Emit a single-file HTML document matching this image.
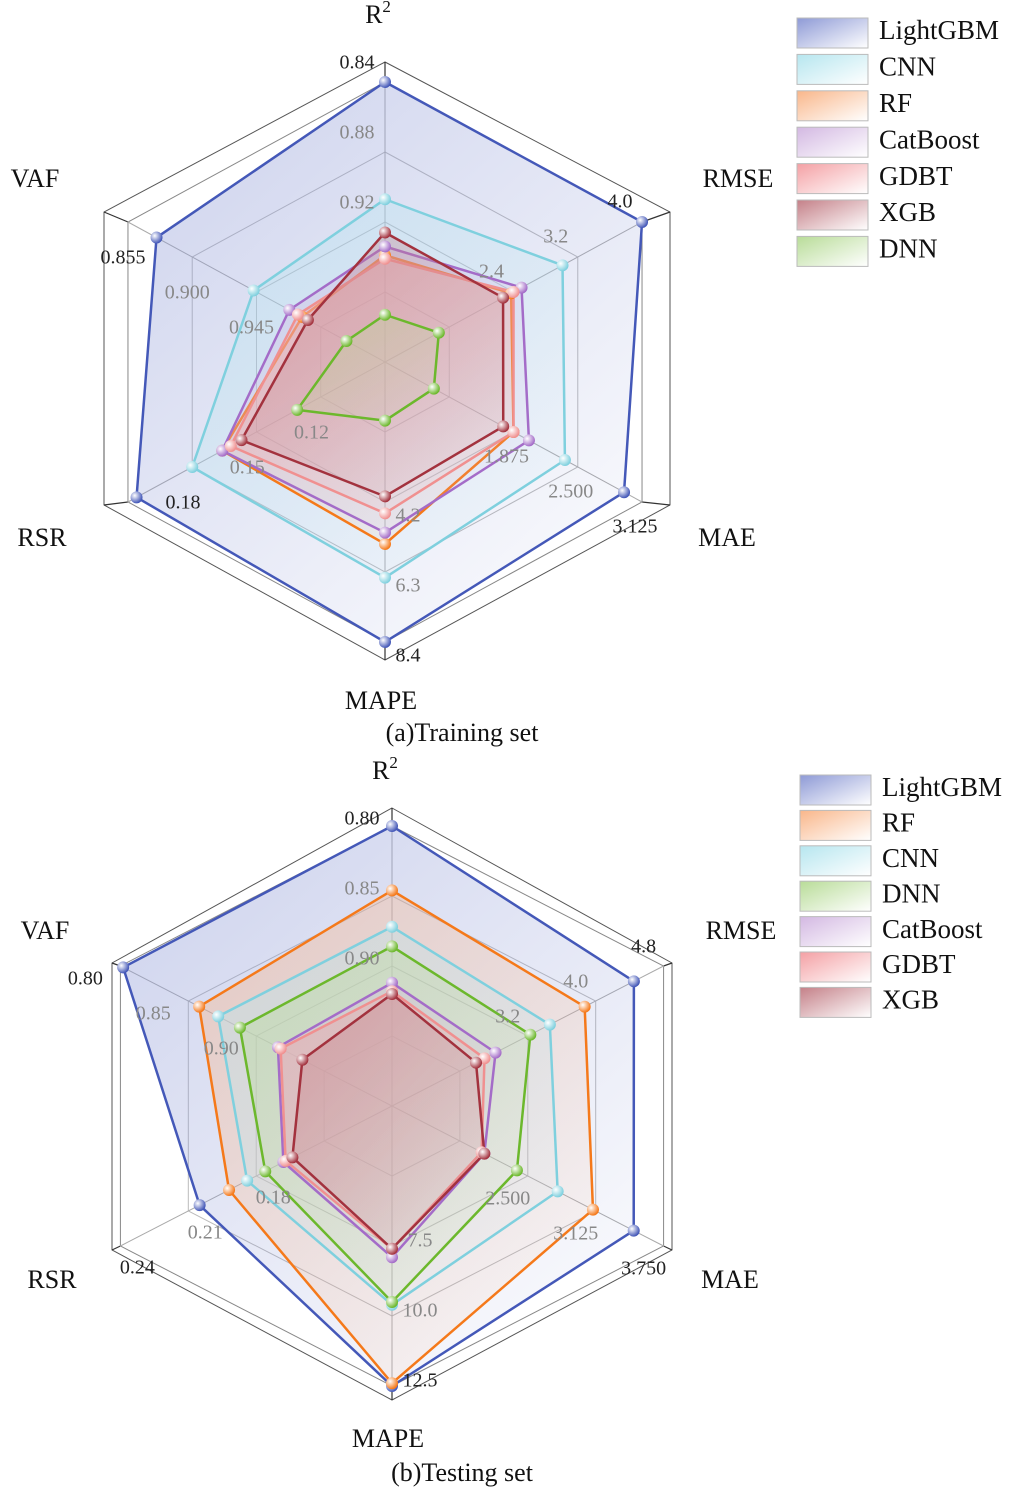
<!DOCTYPE html>
<html><head><meta charset="utf-8"><style>
body{margin:0;background:#fff;}
svg{display:block;font-family:"Liberation Serif",serif;}
</style></head><body>
<svg id="s" width="1025" height="1492" viewBox="0 0 1025 1492"></svg>
<script>
const axesNames=["R2","RMSE","MAE","MAPE","RSR","VAF"];
// chart a: axis center values and outer values
const aCenter=[1.00,0.8,0.625,0,0.06,1.035];
const aOuter=[0.84,4.0,3.125,8.4,0.18,0.855];
const aModels=["LightGBM","CNN","RF","CatBoost","GDBT","XGB","DNN"];
const aLightGBM=[0.840,4.00,2.95,8.40,0.176,0.875];
const aCNN=[0.907,3.01,2.375,6.47,0.150,0.943];
const aRF=[0.939,2.37,1.875,5.46,0.136,0.977];
const aCatBoost=[0.934,2.50,2.025,5.12,0.136,0.968];
const aGDBT=[0.941,2.40,1.875,4.54,0.132,0.974];
const aXGB=[0.926,2.27,1.775,4.03,0.127,0.981];
const aDNN=[0.973,1.47,1.10,1.76,0.101,1.008];
const aTicks=[["0.84","0.88","0.92","0.96"],["4.0","3.2","2.4","1.6"],["3.125","2.500","1.875","1.250"],["8.4","6.3","4.2","2.1"],["0.18","0.15","0.12","0.09"],["0.855","0.900","0.945","0.990"]];
// chart b
const bCenter=[1.00,1.6,1.25,2.5,0.12,1.00];
const bOuter=[0.80,4.8,3.75,12.5,0.24,0.80];
const bModels=["LightGBM","RF","CNN","DNN","CatBoost","GDBT","XGB"];
const bLightGBM=[0.800,4.45,3.475,12.5,0.205,0.802];
const bRF=[0.846,3.87,3.10,12.4,0.192,0.858];
const bCNN=[0.872,3.46,2.775,9.6,0.184,0.872];
const bDNN=[0.886,3.23,2.40,9.5,0.176,0.888];
const bCatBoost=[0.912,2.82,2.10,7.9,0.168,0.916];
const bGDBT=[0.918,2.69,2.075,7.6,0.167,0.918];
const bXGB=[0.920,2.59,2.10,7.6,0.164,0.934];
const bTicks=[["0.80","0.85","0.90","0.95"],["4.8","4.0","3.2","2.4"],["3.750","3.125","2.500","1.875"],["12.5","10.0","7.5","5.0"],["0.24","0.21","0.18","0.15"],["0.80","0.85","0.90","0.95"]];

const colors={LightGBM:"#4458b8",CNN:"#7fd0de",RF:"#f5791a",CatBoost:"#a46cc8",GDBT:"#f09090",XGB:"#a3323e",DNN:"#6cb82c"};
const fills={LightGBM:"#8e9ad6",CNN:"#b6e6ef",RF:"#f9b68a",CatBoost:"#d3b8e2",GDBT:"#f4a0a4",XGB:"#c48088",DNN:"#b8dc98"};
const NS="http://www.w3.org/2000/svg";
const svg=document.getElementById('s');
function mk(tag,attrs,parent){const e=document.createElementNS(NS,tag);for(const k in attrs)e.setAttribute(k,attrs[k]);(parent||svg).appendChild(e);return e;}
const defs=mk('defs',{});
Object.keys(colors).forEach(m=>{
  const g=mk('radialGradient',{id:'ball-'+m,cx:'35%',cy:'35%',r:'65%'},defs);
  mk('stop',{offset:'0','stop-color':'#fff'},g);mk('stop',{offset:'1','stop-color':colors[m]},g);
  const l=mk('linearGradient',{id:'leg-'+m,x1:'0',y1:'0',x2:'1',y2:'1'},defs);
  mk('stop',{offset:'0','stop-color':fills[m]},l);mk('stop',{offset:'1','stop-color':'#fff'},l);
  const f=mk('linearGradient',{id:'fill-'+m,x1:'0',y1:'0',x2:'0.8',y2:'1'},defs);
  mk('stop',{offset:'0','stop-color':fills[m],'stop-opacity':'0.45'},f);mk('stop',{offset:'1','stop-color':fills[m],'stop-opacity':'0.05'},f);
});
const ang=[0,60,120,180,240,300].map(d=>d*Math.PI/180);
function radar(cfg){
  const {cx,cy,R,sx,center,outer,models,data,ticks,tickOff,titles,sub,legX,legY,legStep,frame}=cfg;
  const pt=(i,f)=>[cx+sx*f*R*Math.sin(ang[i]),cy-f*R*Math.cos(ang[i])];
  const frac=(i,v)=>(v-center[i])/(outer[i]-center[i]);
  const g=mk('g',{});
  
  
  const fr=mk('polygon',{points:frame.map(p=>p.join(',')).join(' '),fill:'none',stroke:'#555','stroke-width':1},g);
  
  for(let i=0;i<6;i++){const p=pt(i,1);mk('line',{x1:p[0],y1:p[1],x2:frame[i][0],y2:frame[i][1],stroke:'#333','stroke-width':1.2},g);}
  [0.25,0.5,0.75,1].forEach(f=>{
    const pl=mk('polygon',{points:[0,1,2,3,4,5].map(i=>pt(i,f).join(',')).join(' '),fill:'none',stroke:f==1?'#888':'#bbb','stroke-width':1},g);
    
  });
  for(let i=0;i<6;i++){const p=pt(i,1);const l=mk('line',{x1:cx,y1:cy,x2:p[0],y2:p[1],stroke:'#aaa','stroke-width':1},g);}
  models.forEach(m=>{
    const vals=data[m];const pts=vals.map((v,i)=>pt(i,frac(i,v)));
    const poly=mk('polygon',{points:pts.map(p=>p.join(',')).join(' '),fill:'url(#fill-'+m+')',stroke:colors[m],'stroke-width':2.5,'stroke-linejoin':'round'},g);
    
    
  });
  models.forEach(m=>{
    data[m].forEach((v,i)=>{const p=pt(i,frac(i,v));
      const c=mk('circle',{cx:p[0],cy:p[1],r:6,fill:'url(#ball-'+m+')'},g);
      
      });
  });
  ticks.forEach((arr,i)=>{arr.slice(0,3).forEach((t,k)=>{const f=1-k*0.25;const p=pt(i,f);
    const tx=mk('text',{x:p[0]+tickOff[i][0],y:p[1]+tickOff[i][1],'font-size':20,'text-anchor':'middle','dominant-baseline':'middle',fill:k==0?'#222':'#888'},g);
    tx.textContent=t;
    
    });});
  titles.forEach(t=>{const tx=mk('text',{x:t[1],y:t[2],'font-size':26,'text-anchor':'middle','dominant-baseline':'middle',fill:'#111'},g);
    if(t[0]=="R2"){tx.textContent="R";const s=mk('tspan',{dy:-9,'font-size':17},tx);s.textContent="2";}else tx.textContent=t[0];
    });
  const st=mk('text',{x:sub[1],y:sub[2],'font-size':26,'text-anchor':'middle','dominant-baseline':'middle',fill:'#111'},g);
  st.textContent=sub[0];
  models.forEach((m,k)=>{const y=legY+k*legStep;
    const r=mk('rect',{x:legX,y:y-15,width:71,height:30,fill:'url(#leg-'+m+')',stroke:'#bbb','stroke-width':1},g);
    
    const tx=mk('text',{x:legX+82,y:y,'font-size':27,'dominant-baseline':'middle',fill:'#111'},g);
    tx.textContent=m;});
}
radar({name:'training-radar',cx:385,cy:362,R:280,sx:1.06,center:aCenter,outer:aOuter,models:aModels,
 data:{LightGBM:aLightGBM,CNN:aCNN,RF:aRF,CatBoost:aCatBoost,GDBT:aGDBT,XGB:aXGB,DNN:aDNN},ticks:aTicks,
 tickOff:[[-28,-18],[-22,-19],[-7,26],[23,15],[55,2],[-5,37]],
 titles:[["R2",378,17],["RMSE",738,181],["MAE",727,540],["MAPE",381,703],["RSR",42,540],["VAF",35,181]],
 sub:["(a)Training set",462,735],legX:797,legY:33,legStep:36.4,
 frame:[[385,62],[670,212],[670,505],[385,660],[104,505],[104,212]]});
radar({name:'testing-radar',cx:392,cy:1106,R:280,sx:1.12,center:bCenter,outer:bOuter,models:bModels,
 data:{LightGBM:bLightGBM,RF:bRF,CNN:bCNN,DNN:bDNN,CatBoost:bCatBoost,GDBT:bGDBT,XGB:bXGB},ticks:bTicks,
 tickOff:[[-30,-6],[-20,-18],[-20,24],[28,-4],[17,23],[-35,14]],
 titles:[["R2",385,773],["RMSE",741,933],["MAE",730,1282],["MAPE",388,1441],["RSR",52,1282],["VAF",45,933]],
 sub:["(b)Testing set",462,1475],legX:800,legY:790,legStep:35.4,
 frame:[[392,808],[672,963],[672,1250],[392,1400],[112,1250],[112,963]]});
</script>
</body></html>
